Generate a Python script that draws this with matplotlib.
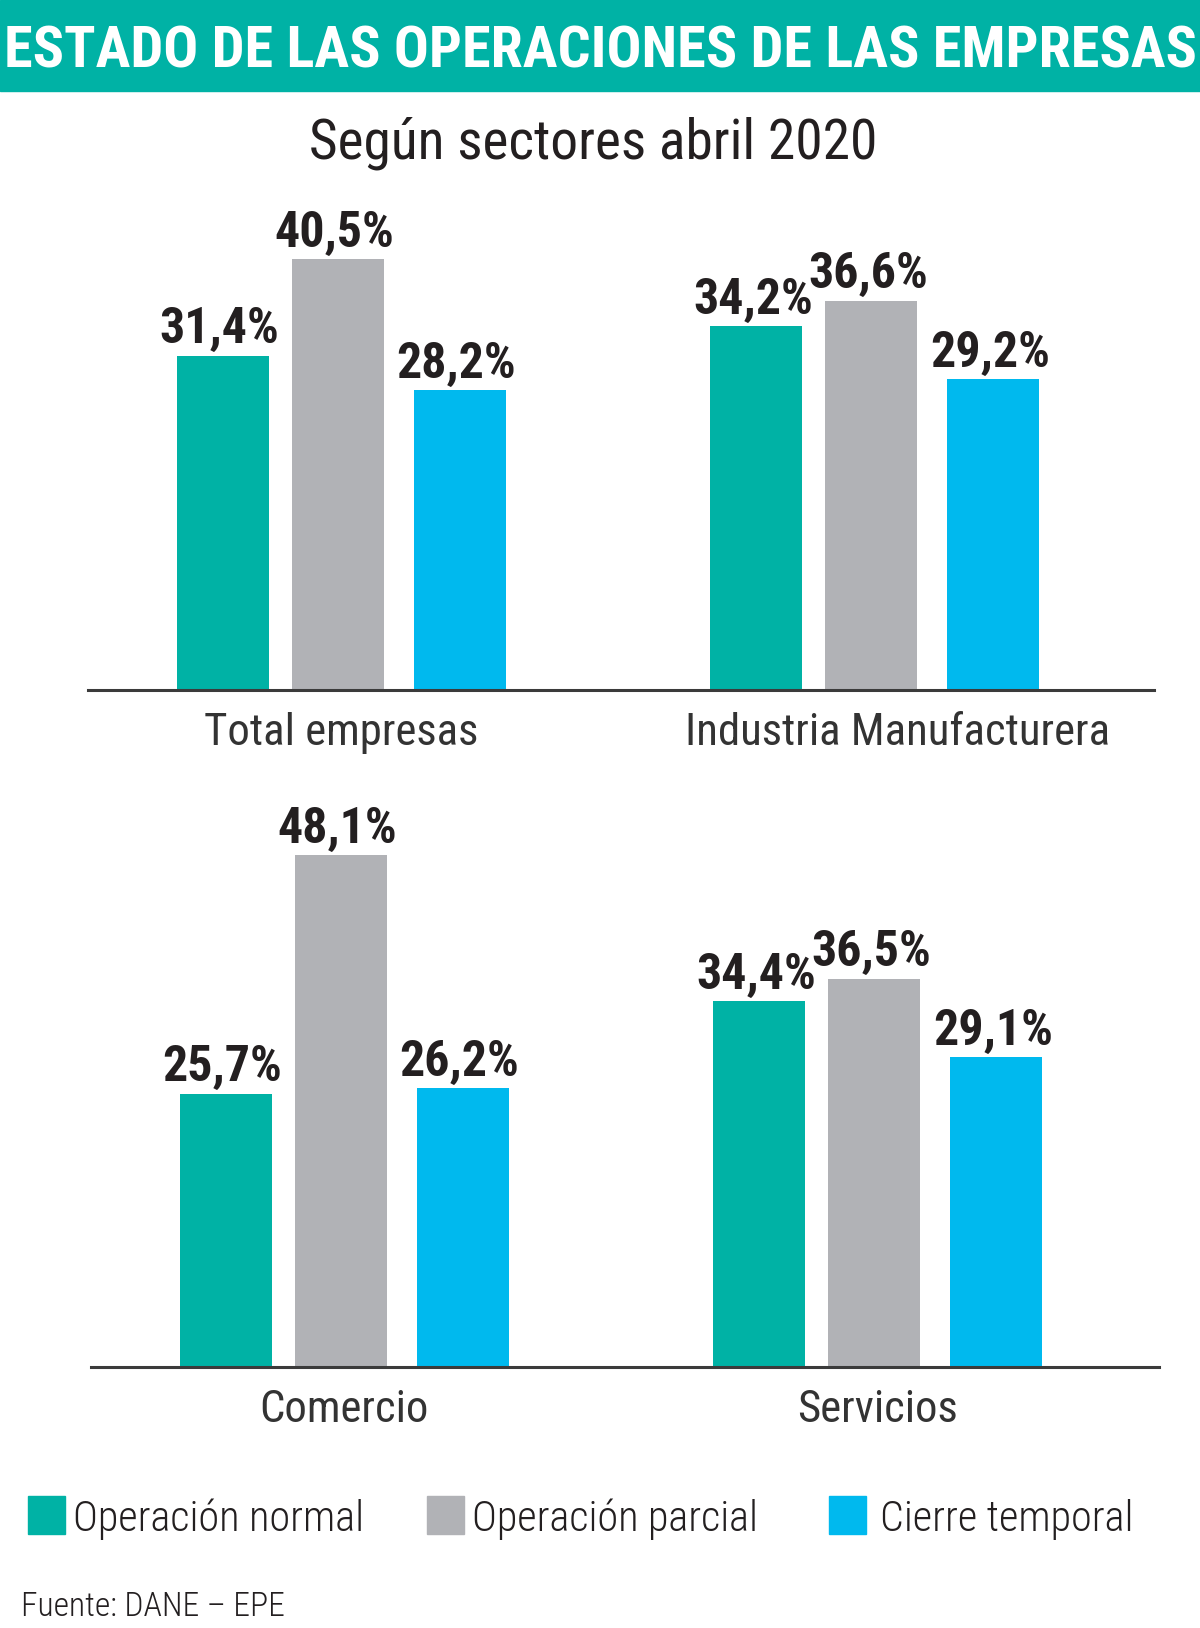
import matplotlib
matplotlib.use('Agg')
import matplotlib.pyplot as plt
from matplotlib.patches import Rectangle

# datos (DANE - EPE, abril 2020)
sectores = [['Total empresas', 'Industria Manufacturera'], ['Comercio', 'Servicios']]
estados = ['Operación normal', 'Operación parcial', 'Cierre temporal']
normal = [[31.4, 34.2], [25.7, 34.4]]
parcial = [[40.5, 36.6], [48.1, 36.5]]
cierre = [[28.2, 29.2], [26.2, 29.1]]

titulo = 'ESTADO DE LAS OPERACIONES DE LAS EMPRESAS'
subtitulo = 'Según sectores abril 2020'
fuente = 'Fuente: DANE – EPE'

colores = ['#00B2A5', '#B1B2B6', '#00B9EE']
oscuro = '#231F20'
FONT = ['Roboto Condensed', 'Roboto', 'DejaVu Sans']
plt.rcParams['font.family'] = FONT

W, H = 1200, 1628
fig = plt.figure(figsize=(12, 16.28), dpi=100)
renderer = fig.canvas.get_renderer()


def fit(t, width_px):
    # ajusta el tamaño de letra al ancho de la referencia
    w = t.get_window_extent(renderer).width
    t.set_fontsize(t.get_fontsize() * width_px / w)
    return t.get_fontsize()


# franja del titulo
fig.patches.append(Rectangle((0, 1 - 91 / H), 1, 91 / H, transform=fig.transFigure,
                             color=colores[0], zorder=0))
t = fig.text(0.5, 1 - 52 / H, titulo, ha='center', va='center', color='white',
             fontweight='bold', fontsize=40)
fit(t, 1190)

t = fig.text(593 / W, 1 - 143 / H, subtitulo, ha='center', va='center', color=oscuro,
             fontweight='normal', fontsize=30)
fit(t, 568)

# filas de barras: (izquierda, derecha, linea base) en pixeles
filas = [(88, 1154, 690), (91, 1159, 1367)]
grupo_x = [88.5, 622]
offsets = [0, 115, 237]
ancho = 92
px_por_pct = 10.64
label_shift = [[0, 23], [0, 0]]

size_valor = None
size_cat = None
for r, (x0, x1, base) in enumerate(filas):
    alto = 50 * px_por_pct
    ax = fig.add_axes([x0 / W, 1 - base / H, (x1 - x0) / W, alto / H])
    ax.set_xlim(0, x1 - x0)
    ax.set_ylim(0, 50)
    for s in ['top', 'right', 'left']:
        ax.spines[s].set_visible(False)
    ax.spines['bottom'].set_color('#3b3b3b')
    ax.spines['bottom'].set_linewidth(2.2)
    ax.set_xticks([])
    ax.set_yticks([])
    ax.patch.set_alpha(0)

    for g in range(2):
        valores = [normal[r][g], parcial[r][g], cierre[r][g]]
        for k, v in enumerate(valores):
            x = grupo_x[g] + offsets[k]
            ax.bar(x, v, width=ancho, align='edge', color=colores[k], zorder=1)
            t = ax.annotate(f'{v:.1f}%'.replace('.', ','), (x + ancho / 2 - 3, v),
                            xytext=(0, 9), textcoords='offset points',
                            ha='center', va='baseline', color=oscuro,
                            fontweight='bold', fontsize=30)
            if size_valor is None:
                size_valor = fit(t, 120)
            t.set_fontsize(size_valor)

        centro = grupo_x[g] + (offsets[-1] + ancho) / 2 + label_shift[r][g]
        t = ax.annotate(sectores[r][g], (centro, 0), xytext=(0, -31),
                        textcoords='offset points', ha='center', va='center',
                        color='#333333', fontsize=28, annotation_clip=False)
        if size_cat is None:
            size_cat = fit(t, 274)
        t.set_fontsize(size_cat)

# leyenda
ley_x = [28, 427, 829]
ley_txt_x = [73, 472, 880]
size_ley = None
for k, est in enumerate(estados):
    fig.patches.append(Rectangle((ley_x[k] / W, 1 - 1534 / H), 37 / W, 38 / H,
                                 transform=fig.transFigure, color=colores[k]))
    t = fig.text(ley_txt_x[k] / W, 1 - 1519 / H, est, ha='left', va='center',
                 color=oscuro, fontweight='light', fontsize=28)
    if size_ley is None:
        size_ley = fit(t, 291)
    t.set_fontsize(size_ley)

t = fig.text(21 / W, 1 - 1607 / H, fuente, ha='left', va='center', color=oscuro,
             fontweight='light', fontsize=22)
fit(t, 263)

fig.savefig('out.png', dpi=100)
